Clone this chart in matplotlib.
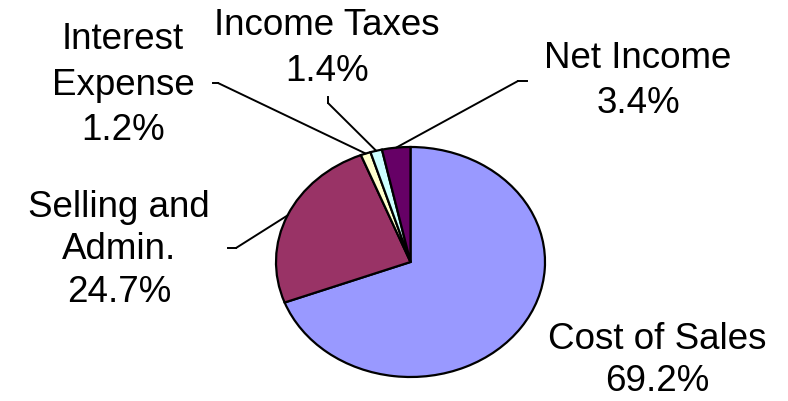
import numpy as np
import matplotlib
matplotlib.use("Agg")
import matplotlib.pyplot as plt
from matplotlib.lines import Line2D

categories = ["Cost of Sales", "Selling and Admin.", "Interest Expense", "Income Taxes", "Net Income"]
values = [69.2, 24.7, 1.2, 1.4, 3.4]
label_lines = [["Cost of Sales"], ["Selling and", "Admin."], ["Interest", "Expense"], ["Income Taxes"], ["Net Income"]]
colors = ["#9999FF", "#993366", "#FFFFCC", "#CCFFFF", "#660066"]

W, H = 788, 401
fig = plt.figure(figsize=(W / 100, H / 100), dpi=100)
fig.patch.set_facecolor("white")

def fx(x):
    return x / W

def fy(y):
    return 1 - y / H

# pie axes (stretched horizontally like the reference)
ax = fig.add_axes([276 / W, 24 / H, 269 / W, 230 / H])
wedges, _ = ax.pie(values, colors=colors, startangle=90, counterclock=False,
                   wedgeprops=dict(edgecolor="black", linewidth=1.6, clip_on=False))
ax.set_aspect("auto")
ax.set_xlim(-1, 1)
ax.set_ylim(-1, 1)
ax.axis("off")

# label layout: center x and baselines (px from top), elbow start/end
label_x = [657, 119, 123, 327, 638]
label_base = [[349, 391], [217, 259, 302], [49, 95, 140], [35, 81], [68, 113]]
leader = [None,
          ((228, 248), (236, 248)),
          ((213, 83), (218, 83)),
          ((328, 97), (328, 103)),
          ((527, 81), (518, 81))]

font = dict(family="Liberation Sans", fontsize=26.5, color="black")
for i, (cat, val) in enumerate(zip(categories, values)):
    lines = label_lines[i] + [f"{val:.1f}%"]
    for line, yb in zip(lines, label_base[i]):
        fig.text(fx(label_x[i]), fy(yb), line, ha="center", va="baseline", **font)
    if leader[i] is not None:
        w = wedges[i]
        mid = np.deg2rad((w.theta1 + w.theta2) / 2)
        px, py = np.cos(mid), np.sin(mid)
        (x0, y0), (x1, y1) = leader[i]
        fig.add_artist(Line2D([fx(x0), fx(x1)], [fy(y0), fy(y1)],
                              transform=fig.transFigure, color="black", lw=1.4))
        ax.annotate("", xy=(px, py), xycoords="data",
                    xytext=(fx(x1), fy(y1)), textcoords="figure fraction",
                    arrowprops=dict(arrowstyle="-", lw=1.4, color="black",
                                    shrinkA=0, shrinkB=0), annotation_clip=False)

fig.savefig("out.png", dpi=100, facecolor="white")
